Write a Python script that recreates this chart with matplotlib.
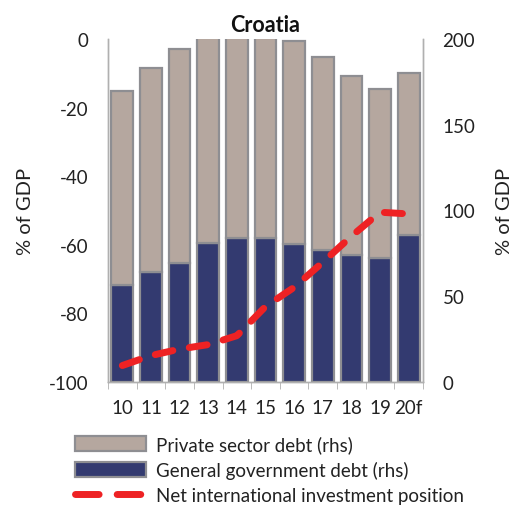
import matplotlib
matplotlib.use("Agg")
import matplotlib.pyplot as plt
from matplotlib.patches import Patch
from matplotlib.lines import Line2D
import numpy as np

plt.rcParams['font.family'] = ['Lato', 'DejaVu Sans']
plt.rcParams['axes.unicode_minus'] = False

years = ["10", "11", "12", "13", "14", "15", "16", "17", "18", "19", "20f"]
gov_debt = [56.7, 64.0, 69.4, 81.2, 83.8, 83.8, 80.3, 77.1, 73.9, 72.3, 85.7]
total_debt = [169.5, 183.0, 194.2, 202.0, 202.0, 202.0, 198.7, 189.3, 178.6, 170.8, 180.2]
private_debt = [t - g for t, g in zip(total_debt, gov_debt)]
niip = [-95.2, -92.3, -90.4, -89.1, -86.5, -78.0, -72.4, -65.1, -57.5, -50.5, -51.0]

navy = "#333a70"
taupe = "#b5a79f"
edge = "#8e8e92"
red = "#ee2224"
txt = "#222222"

fig = plt.figure(figsize=(5.17, 5.06), dpi=100)
ax = fig.add_axes([108/517, 1-383/506, (423-108)/517, (383-40)/506])
x = np.arange(len(years))
w = 0.76
ax.bar(x, gov_debt, w, color=navy, edgecolor=edge, linewidth=1.6, zorder=2)
ax.bar(x, private_debt, w, bottom=gov_debt, color=taupe, edgecolor=edge, linewidth=1.6, zorder=2)
ax.set_ylim(0, 200)
ax.set_xlim(-0.5, len(years) - 0.5)

axl = ax.twinx()
axl.plot(x, niip, color=red, linewidth=5, linestyle=(0, (2.6, 2.4)), dash_capstyle='round', zorder=5)
axl.set_ylim(-100, 0)
axl.set_yticks([-100, -80, -60, -40, -20, 0])
axl.yaxis.tick_left()
axl.yaxis.set_label_position("left")
axl.set_ylabel("% of GDP", fontsize=14.5, labelpad=11, color=txt)

ax.yaxis.tick_right()
ax.yaxis.set_label_position("right")
ax.set_yticks([0, 50, 100, 150, 200])
ax.set_ylabel("% of GDP", fontsize=14.5, labelpad=15, color=txt)

for a in (ax, axl):
    a.spines["top"].set_visible(False)
    for s in ("left", "right", "bottom"):
        a.spines[s].set_color("#b0b0b0")
        a.spines[s].set_linewidth(1.0)
    a.tick_params(axis='y', length=0, labelsize=13.5, pad=14, colors=txt)

ax.set_xticks(x)
ax.set_xticklabels(years)
ax.tick_params(axis='x', length=0, labelsize=13.5, pad=12, colors=txt)
ax.set_xticks(np.arange(-0.5, len(years), 1.0), minor=True)
ax.tick_params(axis='x', which='minor', length=5, color="#b0b0b0", direction='out')

ax.set_title("Croatia", fontsize=15.5, fontweight='bold', pad=6, color="#111111")

handles = [
    Patch(facecolor=taupe, edgecolor=edge, linewidth=1.6),
    Patch(facecolor=navy, edgecolor=edge, linewidth=1.6),
    Line2D([0], [0], color=red, linewidth=5, linestyle=(0, (3.4, 2.6)), dash_capstyle='round'),
]
labels = ["Private sector debt (rhs)", "General government debt (rhs)", "Net international investment position"]
fig.legend(handles, labels, loc="upper left", bbox_to_anchor=(75/517, 1-436/506),
           frameon=False, fontsize=13.5, handlelength=3.8, handleheight=0.8,
           labelspacing=0.42, handletextpad=0.5, borderaxespad=0, borderpad=0,
           labelcolor=txt)

fig.savefig("out.png", dpi=100)
